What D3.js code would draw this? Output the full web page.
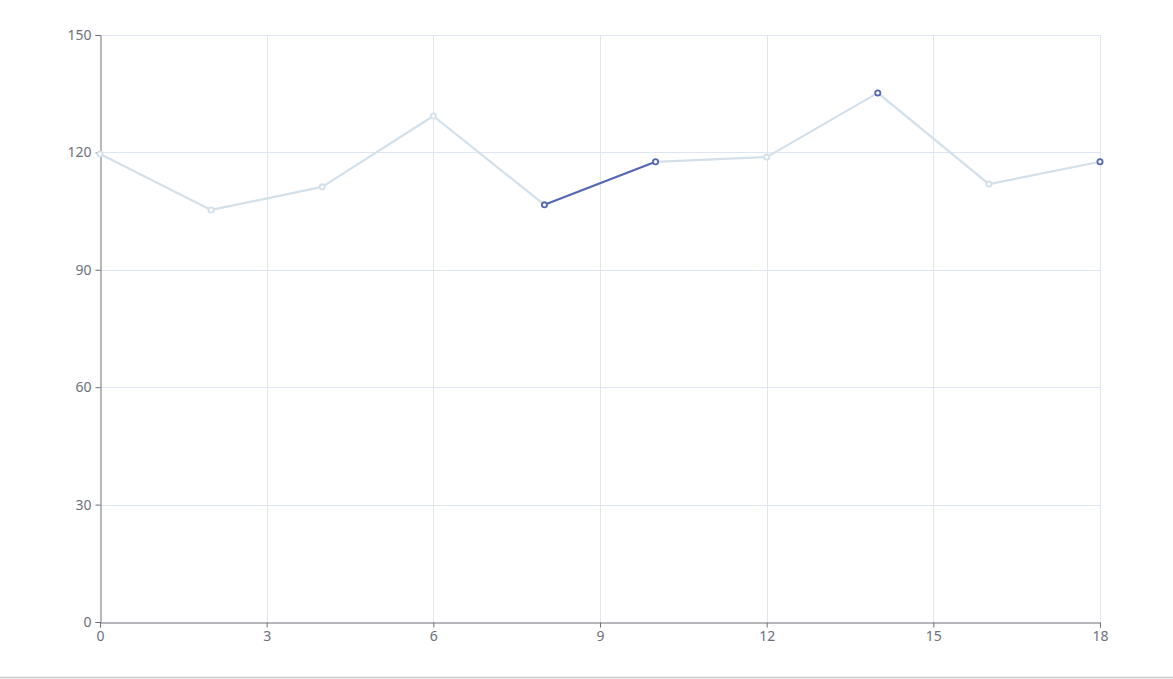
<!DOCTYPE html>
<html>
<head>
<meta charset="utf-8">
<script src="https://cdn.jsdelivr.net/npm/d3@7"></script>
<style>
  body { margin: 0; background: #fff; }
  #chart { width: 1173px; height: 679px; position: relative; }
</style>
</head>
<body>
<div id="chart"></div>
<script>
// values
var xValues = [0, 2, 4, 6, 8, 10, 12, 14, 16, 18];
var yValues = [119.6, 105.3, 111.2, 129.3, 106.6, 117.6, 118.8, 135.2, 111.9, 117.6];
var xTicks = [0, 3, 6, 9, 12, 15, 18];
var yTicks = [0, 30, 60, 90, 120, 150];
// points and segments drawn in the highlight colour
var highlightX = [8, 10, 14, 18];
var highlightSegments = [[8, 10]];

function DrawLine(){
    var width = 1173, height = 679;
    var margin = {top:35, right:73, bottom:57, left:100};
    var w = width - margin.left - margin.right;
    var h = height - margin.top - margin.bottom;
    var dark = "#5668b5", light = "#d3e0ea";

    var svg = d3.select("#chart").append("svg")
        .attr("width", width)
        .attr("height", height);

    // page bottom rule
    svg.append("line")
        .attr("x1", 0).attr("x2", width)
        .attr("y1", 677.5).attr("y2", 677.5)
        .attr("stroke", "#c8c8c8").attr("stroke-width", 1.5);

    var g = svg.append("g")
        .attr("transform", "translate(" + margin.left + "," + margin.top + ")");

    var x = d3.scaleLinear().domain([0, 18]).range([0, w]);
    var y = d3.scaleLinear().domain([0, 150]).range([h, 0]);

    // grid
    g.selectAll(".vgrid").data(xTicks.slice(1))
        .enter().append("line")
        .attr("x1", d => Math.round(x(d)) + 0.5).attr("x2", d => Math.round(x(d)) + 0.5)
        .attr("y1", 0).attr("y2", h)
        .attr("stroke", "#e0e6f1");
    g.selectAll(".hgrid").data(yTicks.slice(1))
        .enter().append("line")
        .attr("x1", 0).attr("x2", w)
        .attr("y1", d => Math.round(y(d)) + 0.5).attr("y2", d => Math.round(y(d)) + 0.5)
        .attr("stroke", "#e0e6f1");

    var xAxis = d3.axisBottom(x).tickValues(xTicks).tickSize(5).tickPadding(4);
    var yAxis = d3.axisLeft(y).tickValues(yTicks).tickSize(5).tickPadding(4);

    var gx = g.append("g")
        .attr("transform", "translate(0," + (h + 0.5) + ")")
        .call(xAxis);
    var gy = g.append("g")
        .attr("transform", "translate(0.5,0)")
        .call(yAxis);
    [gx, gy].forEach(function(a){
        a.select(".domain").attr("stroke", "#6e7079");
        a.selectAll(".tick line").attr("stroke", "#6e7079");
        a.selectAll(".tick text")
            .attr("fill", "#6e7079")
            .style("font-size", "14px")
            .style("font-family", "'Noto Sans', sans-serif");
    });

    var pts = xValues.map((d, i) => [d, yValues[i]]);
    var isSeg = function(a, b){
        return highlightSegments.some(s => s[0] === a && s[1] === b);
    };

    // segments
    for (var i = 0; i < pts.length - 1; i++) {
        var hl = isSeg(pts[i][0], pts[i + 1][0]);
        g.append("line")
            .attr("x1", x(pts[i][0])).attr("y1", y(pts[i][1]))
            .attr("x2", x(pts[i + 1][0])).attr("y2", y(pts[i + 1][1]))
            .attr("stroke", hl ? dark : light)
            .attr("stroke-width", 2.2)
            .attr("stroke-linecap", "round");
    }

    g.selectAll(".pt").data(pts)
        .enter().append("circle")
        .attr("cx", d => x(d[0]))
        .attr("cy", d => y(d[1]))
        .attr("r", 2.6)
        .attr("fill", "#fff")
        .attr("stroke", d => highlightX.indexOf(d[0]) >= 0 ? dark : light)
        .attr("stroke-width", 1.8);
}

DrawLine();
</script>
</body>
</html>
